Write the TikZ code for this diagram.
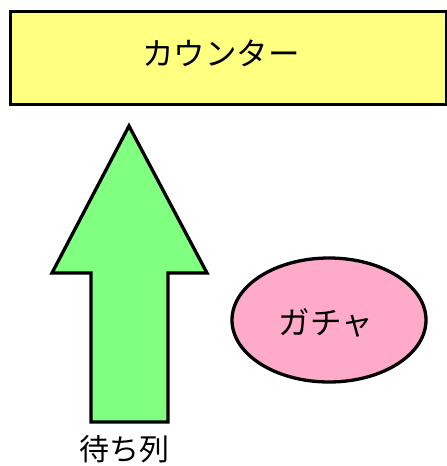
\documentclass[tikz,border=0pt]{standalone}
\usepackage{fontspec}
\newfontfamily\cjk{Noto Sans CJK JP}
\usetikzlibrary{shapes.geometric}
\definecolor{boxyellow}{HTML}{FFFF80}
\definecolor{arrowgreen}{HTML}{80FF80}
\definecolor{gachapink}{HTML}{FFAAC8}
\begin{document}
\begin{tikzpicture}[x=1pt,y=-1pt,
  shapeline/.style={draw=black,line width=3.3pt,line join=miter},
  lbl/.style={font=\cjk\fontsize{31.5}{34}\selectfont,text=black,inner sep=0pt}]
\useasboundingbox (0,0) rectangle (447,466);
\node[shapeline,fill=boxyellow,minimum width=436pt,minimum height=93pt,inner sep=0pt,anchor=north west] (counter) at (8.5,9.5) {};
\node[lbl] (counterlbl) at (221,53) {カウンター};
\draw[shapeline,fill=arrowgreen] (129,126) -- (207,273) -- (168,273) -- (168,422) -- (91,422) -- (91,273) -- (52,273) -- cycle;
\node[shapeline,fill=gachapink,ellipse,minimum width=194pt,minimum height=124pt,inner sep=0pt] (gacha) at (329,320) {};
\node[lbl] (gachalbl) at (326,323) {ガチャ};
\node[lbl,font=\cjk\fontsize{30}{32}\selectfont] (queue) at (124,449) {待ち列};
\end{tikzpicture}
\end{document}
